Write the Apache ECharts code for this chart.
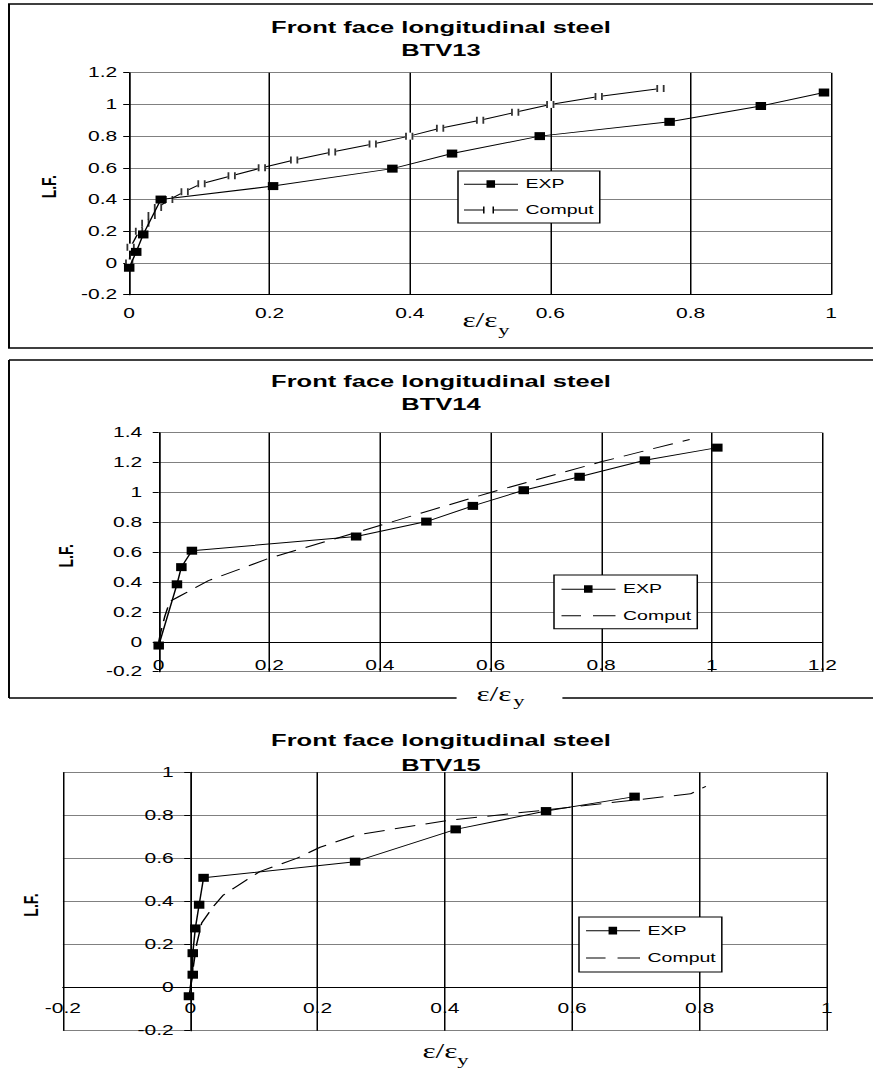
<!DOCTYPE html>
<html><head><meta charset="utf-8">
<script src="https://cdn.jsdelivr.net/npm/echarts@6/dist/echarts.min.js"></script>
<style>
html,body{margin:0;padding:0;background:#fff;overflow:hidden;width:873px;height:1069px}
#wrap{width:873px;height:1069px;overflow:hidden;position:relative;background:#fff}
#c{width:582px;height:1069px;transform:scaleX(1.5);transform-origin:0 0;position:absolute;left:0;top:0}
</style></head><body><div id="wrap"><div id="c"></div></div>
<script>
// ---- data ----
const titles = ['Front face longitudinal steel\nBTV13', 'Front face longitudinal steel\nBTV14', 'Front face longitudinal steel\nBTV15'];
const seriesNames = ['EXP', 'Comput'];

const xTicks13 = [0, 0.2, 0.4, 0.6, 0.8, 1];
const yTicks13 = [-0.2, 0, 0.2, 0.4, 0.6, 0.8, 1, 1.2];
const exp13 = [[0,-0.03],[0.01,0.07],[0.02,0.18],[0.045,0.40],[0.205,0.485],[0.375,0.595],[0.46,0.69],[0.585,0.80],[0.77,0.89],[0.90,0.99],[0.99,1.075]];
const comput13 = [[0,0],[0.002,0.1],[0.014,0.2],[0.023,0.25],[0.032,0.3],[0.041,0.35],[0.057,0.4],[0.079,0.45],[0.103,0.5],[0.146,0.55],[0.189,0.6],[0.235,0.65],[0.289,0.7],[0.347,0.75],[0.399,0.8],[0.443,0.85],[0.5,0.9],[0.55,0.95],[0.6,1.0],[0.669,1.05],[0.757,1.1]];

const xTicks14 = [0, 0.2, 0.4, 0.6, 0.8, 1, 1.2];
const yTicks14 = [-0.2, 0, 0.2, 0.4, 0.6, 0.8, 1, 1.2, 1.4];
const exp14 = [[0,-0.025],[0.033,0.385],[0.041,0.50],[0.06,0.61],[0.357,0.705],[0.484,0.805],[0.568,0.91],[0.66,1.015],[0.761,1.105],[0.879,1.215],[1.01,1.30]];
const comput14 = [[0,0],[0.004,0.07],[0.011,0.17],[0.02,0.27],[0.035,0.3],[0.06,0.35],[0.09,0.41],[0.2,0.56],[0.358,0.733],[0.6,1.0],[0.8,1.205],[0.96,1.355]];

const xTicks15 = [-0.2, 0, 0.2, 0.4, 0.6, 0.8, 1];
const yTicks15 = [-0.2, 0, 0.2, 0.4, 0.6, 0.8, 1];
const exp15 = [[-0.002,-0.04],[0.004,0.06],[0.004,0.16],[0.008,0.275],[0.014,0.385],[0.021,0.51],[0.259,0.585],[0.417,0.735],[0.559,0.82],[0.698,0.887]];
const comput15 = [[0,0],[0.005,0.1],[0.01,0.2],[0.018,0.3],[0.036,0.376],[0.052,0.43],[0.073,0.47],[0.109,0.539],[0.167,0.6],[0.204,0.652],[0.261,0.709],[0.408,0.778],[0.558,0.825],[0.786,0.9],[0.81,0.935]];

// ---- layout / styling ----
const SX = 1.5; // the reference figure is stretched horizontally
const X = v => v / SX;
const FONT = 'Liberation Sans';
const SERIF = 'Liberation Serif';

const grids = [
  {left: X(129.2), top: 72.7, width: X(831 - 129.2), height: 222},
  {left: X(158.7), top: 432.7, width: X(822.4 - 158.7), height: 239},
  {left: X(62.9), top: 772.3, width: X(826.8 - 62.9), height: 258.4}
];

function step(t) { return Math.round((t[1] - t[0]) * 1e6) / 1e6; }
// distance (px) from the grid edge to the value 0 on the other axis, so the axis sits on zero
function zeroShift(ticks, size) {
  const mn = ticks[0], mx = ticks[ticks.length - 1];
  return -((0 - mn) / (mx - mn)) * size;
}
function xAx(i, ticks, yTicks, margin) {
  return {type: 'value', gridIndex: i, min: ticks[0], max: ticks[ticks.length - 1], interval: step(ticks),
    offset: yTicks ? zeroShift(yTicks, grids[i].height) : 0,
    axisLine: {onZero: false, lineStyle: {color: '#000', width: 1}},
    axisTick: {show: false},
    axisLabel: {color: '#000', fontFamily: FONT, fontSize: 14, margin: margin, showMinLabel: true, showMaxLabel: true},
    splitLine: {show: true, showMinLine: true, showMaxLine: true, lineStyle: {color: '#000', width: 1}}};
}
function yAx(i, ticks, xTicks, margin) {
  return {type: 'value', gridIndex: i, min: ticks[0], max: ticks[ticks.length - 1], interval: step(ticks),
    offset: xTicks ? zeroShift(xTicks, grids[i].width) : 0,
    axisLine: {onZero: false, lineStyle: {color: '#000', width: 1}},
    axisTick: {show: true, length: 4, lineStyle: {color: '#000'}},
    axisLabel: {color: '#000', fontFamily: FONT, fontSize: 14, margin: margin, showMinLabel: true, showMaxLabel: true},
    splitLine: {show: true, showMinLine: true, showMaxLine: true, lineStyle: {color: '#808080', width: 1}}};
}

const EXP_ICON = 'path://M0,4H15V5H0Z M15,0.5H20.7V8.2H15Z M20.7,4H36V5H20.7Z';
const BAR_ICON = 'path://M0,3H12.7V4H0Z M12.7,0H13.7V7H12.7Z M19,0H20V7H19Z M20,3H36V4H20Z';
const DASH_ICON = 'path://M0,4.5H13V5.5H0Z M21,4.5H36V5.5H21Z';
const BAR_MARK = 'path://M0,0H1.2V7H0Z M4.3,0H5.5V7H4.3Z';

function legend(left, top, padTop, gap, padBottom, padLeft, computIcon) {
  return {left: left, top: top, orient: 'vertical', itemWidth: 36, itemHeight: 14, itemGap: gap, itemTextGap: 5.3,
    padding: [padTop, 4, padBottom, padLeft], borderColor: '#000', borderWidth: 1, backgroundColor: '#fff',
    selectedMode: false, symbolKeepAspect: true,
    textStyle: {fontFamily: FONT, fontSize: 13, color: '#000', lineHeight: 14},
    data: [{name: seriesNames[0], icon: EXP_ICON, itemStyle: {color: '#000', borderWidth: 0}},
           {name: seriesNames[1], icon: computIcon, itemStyle: {color: '#000', borderWidth: 0}}]};
}

function expSeries(i, data) {
  return {name: seriesNames[0], type: 'line', xAxisIndex: i, yAxisIndex: i, data: data, z: 4,
    symbol: 'rect', symbolSize: [7, 8], itemStyle: {color: '#000'}, lineStyle: {color: '#000', width: 1}};
}
function dashSeries(i, data) {
  return {name: seriesNames[1], type: 'line', xAxisIndex: i, yAxisIndex: i, data: data, z: 2,
    symbol: 'none', itemStyle: {color: '#000'}, lineStyle: {color: '#000', width: 1, type: [14, 7]}};
}

function titleC(text, top, lh) {
  return {text: text, left: X(441), top: top, textAlign: 'center', padding: 0, itemGap: 0,
    textStyle: {fontFamily: FONT, fontSize: 17, fontWeight: 'bold', color: '#000', lineHeight: lh}};
}

function txt(x, y, text, size, family, weight, rot) {
  return {type: 'text', x: x, y: y, rotation: rot || 0, silent: true,
    style: {text: text, fontSize: size, fontFamily: family, fontWeight: weight || 'normal', fill: '#000', align: 'center', verticalAlign: 'middle'}};
}
function ln(x1, y1, x2, y2) {
  return {type: 'line', silent: true, shape: {x1: x1, y1: y1, x2: x2, y2: y2}, style: {stroke: '#000', lineWidth: 1.3}};
}

const option = {
  animation: false,
  backgroundColor: '#fff',
  title: [titleC(titles[0], 15.5, 23), titleC(titles[1], 370, 23), titleC(titles[2], 727.5, 25)],
  legend: [
    legend(X(458), 171, 6, 12, 6, 4, BAR_ICON),
    legend(X(554), 575, 7, 12.7, 6, 5, DASH_ICON),
    legend(X(579), 917, 6.7, 13.3, 7, 4.7, DASH_ICON)
  ],
  grid: grids,
  xAxis: [xAx(0, xTicks13, null, 12), xAx(1, xTicks14, yTicks14, 16), xAx(2, xTicks15, yTicks15, 14)],
  yAxis: [yAx(0, yTicks13, null, 8), yAx(1, yTicks14, null, 11), yAx(2, yTicks15, xTicks15, 11)],
  series: [
    {name: seriesNames[1], type: 'line', xAxisIndex: 0, yAxisIndex: 0, data: comput13, z: 2,
      symbol: 'rect', symbolSize: [5.5, 7], itemStyle: {color: '#fff', borderWidth: 0}, lineStyle: {color: '#000', width: 1}},
    {name: 'Comput marks', type: 'scatter', xAxisIndex: 0, yAxisIndex: 0, data: comput13, z: 3,
      symbol: BAR_MARK, symbolSize: [5.5, 7], itemStyle: {color: '#000'}},
    expSeries(0, exp13),
    dashSeries(1, comput14),
    expSeries(1, exp14),
    dashSeries(2, comput15),
    expSeries(2, exp15)
  ],
  graphic: [
    {type: 'rect', silent: true, shape: {x: X(9), y: 4, width: 620, height: 344}, style: {fill: 'none', stroke: '#000', lineWidth: 1.3}},
    ln(X(9), 360, 620, 360), ln(X(9), 360, X(9), 698), ln(X(9), 698, X(456.6), 698), ln(X(562.4), 698, 620, 698),
    txt(X(48.7), 186.7, 'L.F.', 14, FONT, 'bold', Math.PI / 2),
    txt(X(65.5), 555.8, 'L.F.', 14, FONT, 'bold', Math.PI / 2),
    txt(X(30.6), 905, 'L.F.', 14, FONT, 'bold', Math.PI / 2),
    txt(X(480), 320, 'ε/ε', 21, SERIF), txt(X(504), 330, 'y', 15, SERIF),
    txt(X(494), 694, 'ε/ε', 21, SERIF), txt(X(519), 700.5, 'y', 15, SERIF),
    txt(X(440), 1050.5, 'ε/ε', 21, SERIF), txt(X(463), 1059.5, 'y', 15, SERIF)
  ]
};

const chart = echarts.init(document.getElementById('c'), null, {renderer: 'svg', width: 582, height: 1069});
chart.setOption(option);
</script></body></html>
